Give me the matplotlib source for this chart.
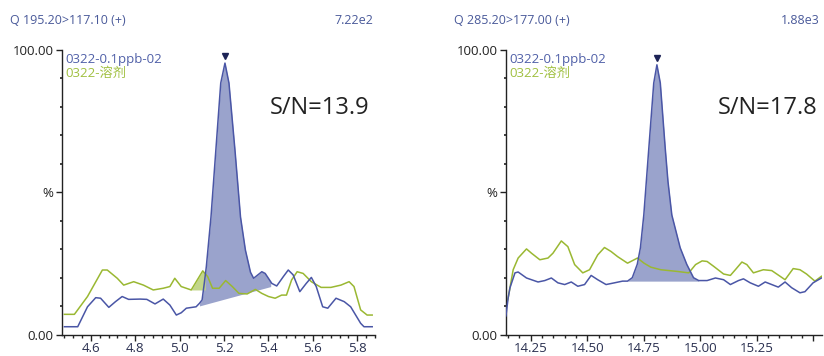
import numpy as np
import matplotlib.pyplot as plt
from matplotlib.ticker import MultipleLocator, FixedLocator, FixedFormatter, FuncFormatter

plt.rcParams['font.family'] = ['Open Sans', 'Noto Sans CJK SC', 'DejaVu Sans']

BLUE = "#4a56a6"
BLUE_FILL = "#9aa3cc"
GREEN = "#9ab832"
GREEN_FILL = "#c2d68a"
HEAD = "#4a5a9a"

# ---- left panel: Q 195.20>117.10 ----
t1_sample = [4.481, 4.541, 4.585, 4.622, 4.644, 4.681, 4.711, 4.741, 4.770, 4.822, 4.852,
             4.889, 4.926, 4.956, 4.985, 5.007, 5.030, 5.074, 5.089, 5.101, 5.111, 5.120,
             5.141, 5.163, 5.185, 5.204, 5.222, 5.249, 5.274, 5.296, 5.319, 5.333, 5.370,
             5.385, 5.415, 5.437, 5.467, 5.489, 5.511, 5.541, 5.570, 5.593, 5.615, 5.644,
             5.667, 5.704, 5.741, 5.770, 5.815, 5.830, 5.867]
v1_sample = [2.9, 2.9, 9.9, 13.1, 12.9, 9.7, 11.7, 13.5, 12.5, 12.6, 12.5,
             10.9, 12.6, 10.5, 7.0, 7.8, 9.4, 9.9, 11.1, 12.3, 18.2, 23.9,
             41.4, 64.9, 88.4, 95.4, 88.4, 64.9, 41.4, 29.8, 22.0, 19.9, 22.2,
             21.6, 18.1, 17.2, 20.5, 22.8, 21.1, 15.2, 18.1, 20.2, 17.0, 9.9,
             9.4, 12.9, 11.7, 9.9, 4.1, 2.9, 2.9]
t1_blank = [4.481, 4.526, 4.585, 4.652, 4.674, 4.719, 4.748, 4.793, 4.837, 4.881, 4.926,
            4.956, 4.978, 5.007, 5.052, 5.104, 5.126, 5.148, 5.178, 5.207, 5.237, 5.267,
            5.304, 5.341, 5.370, 5.400, 5.430, 5.459, 5.481, 5.504, 5.529, 5.556, 5.593,
            5.637, 5.681, 5.726, 5.763, 5.785, 5.815, 5.844, 5.867]
v1_blank = [7.25, 7.25, 13.5, 22.8, 22.8, 19.9, 17.5, 18.7, 17.5, 15.8, 16.4,
            17.0, 19.9, 17.0, 15.8, 22.5, 20.5, 16.4, 16.4, 19.1, 17.0, 14.6,
            14.4, 16.0, 14.6, 13.5, 12.9, 14.0, 14.0, 19.3, 22.2, 21.6, 18.7,
            16.7, 16.7, 17.5, 18.7, 17.0, 8.8, 7.0, 7.0]
base1_t = [5.089, 5.41]
base1_v = [10.2, 17.0]
blank1_fill_t = [5.05, 5.115]
blank1_fill_v = 15.8

# ---- right panel: Q 285.20>177.00 ----
t2_sample = [14.140, 14.150, 14.158, 14.180, 14.194, 14.231, 14.282, 14.312, 14.341, 14.370,
             14.400, 14.429, 14.458, 14.488, 14.517, 14.546, 14.583, 14.620, 14.656, 14.678,
             14.699, 14.721, 14.735, 14.750, 14.772, 14.794, 14.808, 14.823, 14.845, 14.857,
             14.874, 14.911, 14.940, 14.970, 14.993, 15.030, 15.067, 15.103, 15.133, 15.169,
             15.191, 15.221, 15.257, 15.287, 15.316, 15.345, 15.375, 15.404, 15.441, 15.463,
             15.499, 15.536]
v2_sample = [6.7, 13.1, 16.6, 21.8, 22.1, 20.0, 18.6, 19.1, 20.0, 18.3,
             17.7, 18.6, 17.1, 17.7, 20.9, 19.4, 17.7, 18.3, 18.9, 18.9,
             20.1, 24.8, 30.6, 42.1, 65.3, 88.4, 94.8, 88.4, 65.3, 53.8,
             42.1, 30.6, 24.8, 20.1, 19.1, 19.1, 20.0, 19.4, 17.7, 19.1,
             19.7, 18.3, 17.1, 18.6, 17.7, 16.8, 18.6, 16.6, 14.8, 15.2,
             18.3, 20.0]
t2_blank = [14.143, 14.150, 14.172, 14.194, 14.231, 14.253, 14.290, 14.326, 14.348, 14.385,
            14.414, 14.444, 14.480, 14.510, 14.546, 14.576, 14.605, 14.634, 14.678, 14.722,
            14.751, 14.781, 14.825, 14.898, 14.949, 14.979, 15.008, 15.030, 15.059, 15.103,
            15.133, 15.155, 15.184, 15.206, 15.235, 15.279, 15.316, 15.353, 15.375, 15.411,
            15.441, 15.470, 15.507, 15.536]
v2_blank = [10.8, 13.1, 22.9, 27.0, 30.2, 28.7, 26.4, 27.0, 28.7, 33.0,
            31.0, 24.7, 21.8, 22.9, 28.1, 30.7, 29.3, 27.5, 25.2, 27.0,
            25.2, 23.8, 22.9, 22.3, 21.8, 24.7, 26.0, 25.8, 24.1, 21.4,
            20.9, 22.9, 25.6, 24.7, 21.8, 22.9, 22.6, 20.6, 19.4, 23.3,
            22.9, 21.4, 18.9, 20.6]
base2_t = [14.678, 14.993]
base2_v = [18.9, 18.9]

panels = [
    dict(rect=[0.0752, 0.059, 0.380, 0.8006], xlim=(4.47, 5.88), major=0.2, minor=0.04, fmt="%.1f",
         label_max=5.85, ts=t1_sample, vs=v1_sample, tb=t1_blank, vb=v1_blank,
         base_t=base1_t, base_v=base1_v,
         title="Q 195.20>117.10 (+)", title_x=10, scale="7.22e2", scale_x=373, sn="S/N=13.9", sn_x=270,
         legend_x=65),
    dict(rect=[0.614, 0.059, 0.384, 0.8006], xlim=(14.14, 15.54), major=0.25, minor=0.05, fmt="%.2f",
         label_max=15.3, ts=t2_sample, vs=v2_sample, tb=t2_blank, vb=v2_blank,
         base_t=base2_t, base_v=base2_v,
         title="Q 285.20>177.00 (+)", title_x=454, scale="1.88e3", scale_x=820, sn="S/N=17.8", sn_x=718,
         legend_x=509),
]

W, H = 824, 356
fig = plt.figure(figsize=(W / 100, H / 100), dpi=100)

for i, p in enumerate(panels):
    ax = fig.add_axes(p["rect"])
    ts = np.array(p["ts"]); vs = np.array(p["vs"])
    tb = np.array(p["tb"]); vb = np.array(p["vb"])

    # integrated peak area above the baseline
    m = (ts >= p["base_t"][0]) & (ts <= p["base_t"][1])
    tt = np.concatenate([[p["base_t"][0]], ts[m], [p["base_t"][1]]])
    vv = np.interp(tt, ts, vs)
    bb = np.interp(tt, p["base_t"], p["base_v"])
    ax.fill_between(tt, bb, vv, where=vv >= bb, interpolate=True, color=BLUE_FILL, lw=0, zorder=1)

    if i == 0:
        gt = np.linspace(blank1_fill_t[0], blank1_fill_t[1], 30)
        gv = np.interp(gt, tb, vb)
        ax.fill_between(gt, blank1_fill_v, gv, where=gv >= blank1_fill_v, interpolate=True,
                        color=GREEN_FILL, lw=0, zorder=1)

    ax.plot(tb, vb, color=GREEN, lw=1.1, zorder=2)
    ax.plot(ts, vs, color=BLUE, lw=1.1, zorder=3)

    # apex marker
    k = int(np.argmax(vs))
    ax.plot(ts[k], vs[k] + 2.5, marker="v", color="#1c2356", ms=4, zorder=4)

    ax.set_xlim(*p["xlim"])
    ax.set_ylim(0, 100)
    for s in ["top", "right"]:
        ax.spines[s].set_visible(False)
    for s in ["left", "bottom"]:
        ax.spines[s].set_color("#222222")
        ax.spines[s].set_linewidth(1.0)

    lim = p["label_max"]
    fmt = p["fmt"]
    ax.xaxis.set_major_locator(MultipleLocator(p["major"]))
    ax.xaxis.set_minor_locator(MultipleLocator(p["minor"]))
    ax.xaxis.set_major_formatter(FuncFormatter(lambda x, pos, lim=lim, fmt=fmt: fmt % x if x < lim else ""))
    ax.tick_params(axis="x", which="major", length=4, width=1, labelsize=9.5, colors="#222222",
                   labelcolor="#2a3050", pad=1)
    ax.tick_params(axis="x", which="minor", length=2.5, width=1, colors="#222222")

    ax.yaxis.set_major_locator(FixedLocator([0, 50, 100]))
    ax.yaxis.set_major_formatter(FixedFormatter(["0.00", "%", "100.00"]))
    ax.yaxis.set_minor_locator(FixedLocator([10, 20, 30, 40, 60, 70, 80, 90]))
    ax.tick_params(axis="y", which="major", length=4, width=1, labelsize=9.5, colors="#222222", pad=2)
    ax.tick_params(axis="y", which="minor", length=1.5, width=1.2, colors="#222222")

    # header texts
    fig.text(p["title_x"] / W, 1 - 21 / H, p["title"], color=HEAD, fontsize=9, ha="left", va="center")
    fig.text(p["scale_x"] / W, 1 - 21 / H, p["scale"], color=HEAD, fontsize=9, ha="right", va="center")
    fig.text(p["legend_x"] / W, 1 - 59 / H, "0322-0.1ppb-02", color="#5060a8", fontsize=9.5,
             ha="left", va="center")
    fig.text(p["legend_x"] / W, 1 - 73 / H, "0322-溶剂", color="#a0c040", fontsize=9.5,
             ha="left", va="center")
    fig.text(p["sn_x"] / W, 1 - 108 / H, p["sn"], color="#222222", fontsize=17, ha="left", va="center")

fig.savefig("out.png", dpi=100)
